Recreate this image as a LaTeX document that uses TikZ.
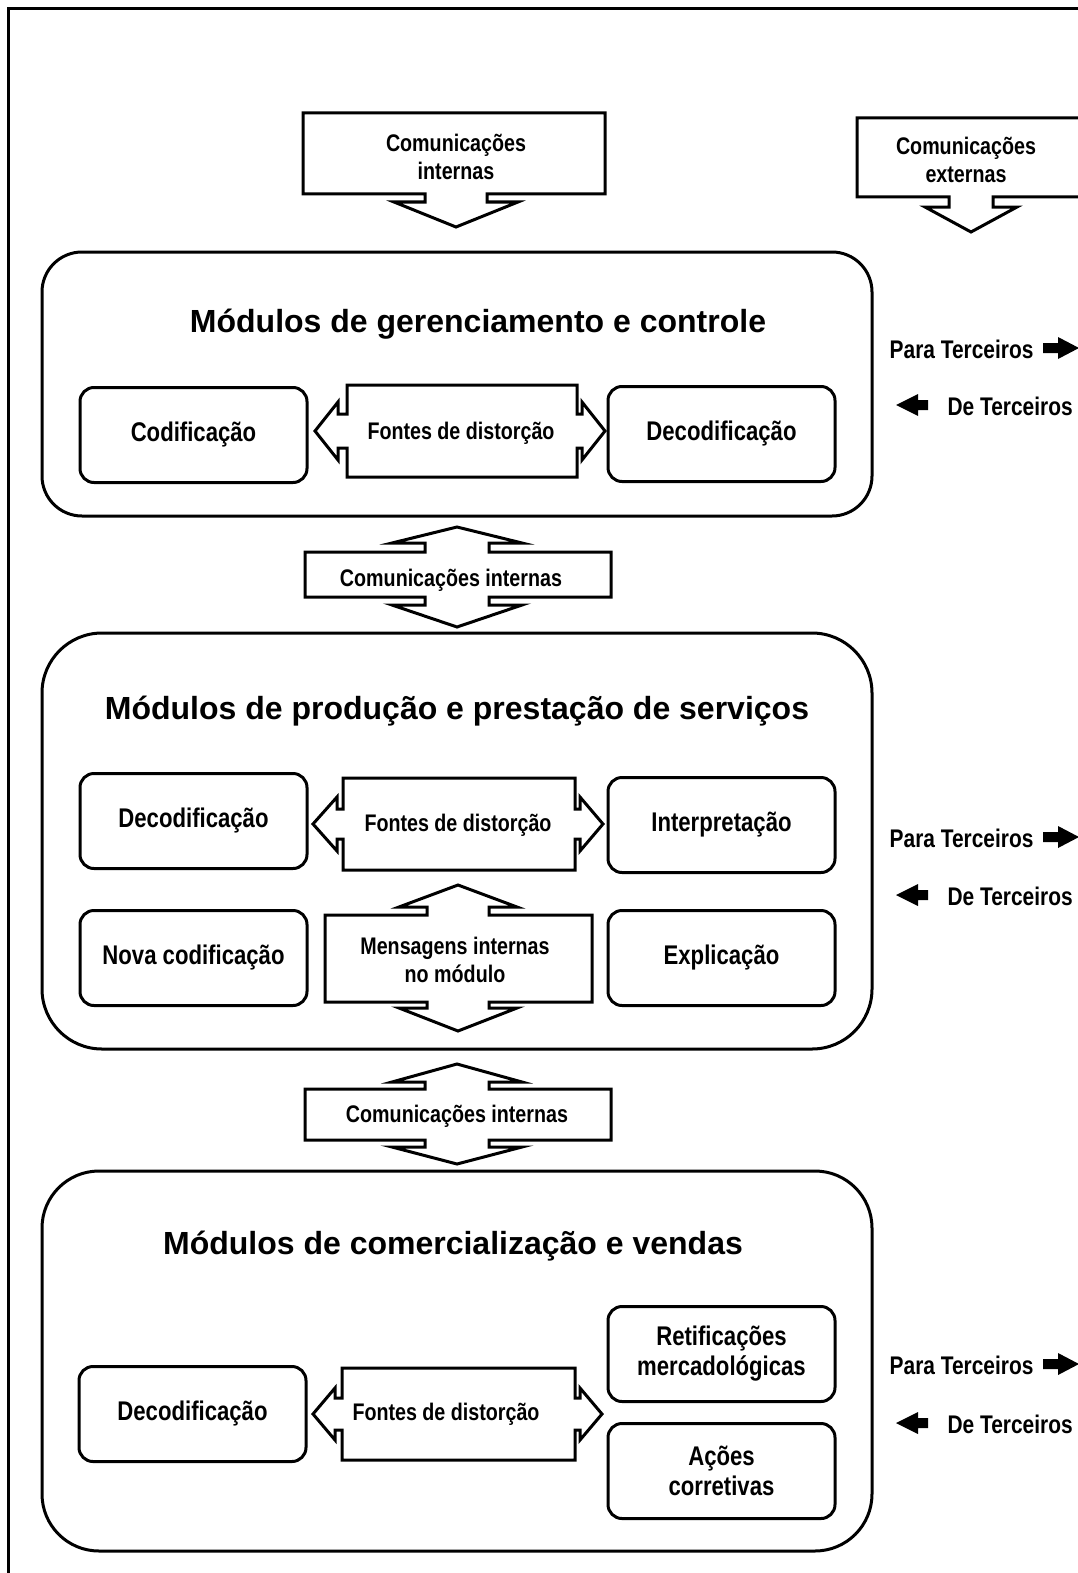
\documentclass[tikz,border=0pt]{standalone}
\usepackage{fontspec}
\setmainfont{Liberation Sans}
\newfontfamily\narrowfont[FakeStretch=0.82]{Liberation Sans}
\usetikzlibrary{positioning}

\tikzset{
  module/.style={draw,line width=3pt,minimum width=830pt,inner sep=0pt},
  titl/.style={font=\bfseries\fontsize{32pt}{38pt}\selectfont},
  box/.style={draw,line width=3pt,rounded corners=14pt,minimum width=227pt,minimum height=95pt,
    align=center,font=\narrowfont\bfseries\fontsize{27pt}{30pt}\selectfont},
  shp/.style={draw,line width=3pt,line join=miter,fill=white},
  sml/.style={align=center,font=\narrowfont\bfseries\fontsize{24pt}{28pt}\selectfont},
  ter/.style={font=\narrowfont\bfseries\fontsize{25.5pt}{28pt}\selectfont},
}

\begin{document}
\begin{tikzpicture}[x=1pt,y=-1pt]
\useasboundingbox (0,0) rectangle (1078,1573);
\clip (0,0) rectangle (1078,1573);
\draw [line width=3pt] (8,9) rectangle (1100,1600);

% callouts on top
\draw [shp] (303,113) -- (605,113) -- (605,194) -- (487,194) -- (487,202) -- (518,202) -- (456,227)
  -- (394,202) -- (425,202) -- (425,194) -- (303,194) -- cycle;
\node [sml] (ci) at (456,157) {Comunicações\\internas};
\draw [shp] (857,118) -- (1088,118) -- (1088,197) -- (993,197) -- (993,207) -- (1017,207) -- (971,232)
  -- (925,207) -- (949,207) -- (949,197) -- (857,197) -- cycle;
\node [sml] (ce) at (966,160) {Comunicações\\externas};

% modules
\node [module,rounded corners=40pt,minimum height=264pt] (m1) at (457,384) {};
\node [module,rounded corners=60pt,minimum height=416pt] (m2) at (457,841) {};
\node [module,rounded corners=57pt,minimum height=380pt] (m3) at (457,1361) {};
\node [titl] (t1) at (478,324) {Módulos de gerenciamento e controle};
\node [titl] (t2) at (457,711) {Módulos de produção e prestação de serviços};
\node [titl] (t3) at (453,1246) {Módulos de comercialização e vendas};

% module 1
\node [box] (cod1) at (193.5,435) {Codificação};
\node [box] (dec1) at (721.5,434) {Decodificação};
\draw [shp] (347,385) -- (577,385) -- (577,414) -- (582,414) -- (582,402) -- (605,431) -- (582,460)
  -- (582,448) -- (577,448) -- (577,477) -- (347,477) -- (347,448) -- (338,448) -- (338,460)
  -- (315,431) -- (338,402) -- (338,414) -- (347,414) -- cycle;
\node [sml] (fd1) at (461,433) {Fontes de distorção};

% between 1 and 2
\draw [shp] (305,552) -- (425,552) -- (425,543) -- (392,543) -- (457,527) -- (522,543) -- (489,543)
  -- (489,552) -- (611,552) -- (611,597) -- (489,597) -- (489,605) -- (522,605) -- (457,627)
  -- (392,605) -- (425,605) -- (425,597) -- (305,597) -- cycle;
\node [sml] (ci12) at (451,580) {Comunicações internas};

% module 2
\node [box] (dec2) at (193.5,821) {Decodificação};
\node [box] (int2) at (721.5,825) {Interpretação};
\node [box] (nova2) at (193.5,958) {Nova codificação};
\node [box] (exp2) at (721.5,958) {Explicação};
\draw [shp] (343,778) -- (575,778) -- (575,809) -- (580,809) -- (580,797) -- (603,824) -- (580,851)
  -- (580,839) -- (575,839) -- (575,870) -- (343,870) -- (343,839) -- (337,839) -- (337,851)
  -- (313,824) -- (337,797) -- (337,809) -- (343,809) -- cycle;
\node [sml] (fd2) at (458,825) {Fontes de distorção};
\draw [shp] (325,915) -- (427,915) -- (427,907) -- (399,907) -- (458,885) -- (517,907) -- (489,907)
  -- (489,915) -- (592,915) -- (592,1002) -- (489,1002) -- (489,1008) -- (517,1008) -- (458,1031)
  -- (399,1008) -- (427,1008) -- (427,1002) -- (325,1002) -- cycle;
\node [sml] (msg2) at (455,960) {Mensagens internas\\no módulo};

% between 2 and 3
\draw [shp] (305,1089) -- (425,1089) -- (425,1082) -- (392,1082) -- (457,1064) -- (522,1082) -- (489,1082)
  -- (489,1089) -- (611,1089) -- (611,1140) -- (489,1140) -- (489,1147) -- (522,1147) -- (457,1164)
  -- (392,1147) -- (425,1147) -- (425,1140) -- (305,1140) -- cycle;
\node [sml] (ci23) at (457,1116) {Comunicações internas};

% module 3
\node [box] (dec3) at (192.5,1414) {Decodificação};
\node [box] (ret3) at (721.5,1354) {Retificações\\mercadológicas};
\node [box] (aco3) at (721.5,1471) {Ações\\corretivas};
\draw [shp] (342,1368) -- (575,1368) -- (575,1398) -- (580,1398) -- (580,1388) -- (602,1414) -- (580,1440)
  -- (580,1430) -- (575,1430) -- (575,1460) -- (342,1460) -- (342,1430) -- (335,1430) -- (335,1440)
  -- (313,1414) -- (335,1388) -- (335,1398) -- (342,1398) -- cycle;
\node [sml] (fd3) at (446,1414) {Fontes de distorção};

% third parties
\foreach \p/\d/\n in {348/405/1, 837/895/2, 1364/1423/3}{
  \node [ter,anchor=east] (pt\n) at (1037,\p+1) {Para Terceiros};
  \node [ter,anchor=west] (dt\n) at (944,\d+1) {De Terceiros};
  \fill (1043,\p-5) -- (1058,\p-5) -- (1058,\p-11) -- (1079,\p) -- (1058,\p+11) -- (1058,\p+5) -- (1043,\p+5) -- cycle;
  \fill (928,\d-5) -- (918,\d-5) -- (918,\d-11) -- (896,\d) -- (918,\d+11) -- (918,\d+5) -- (928,\d+5) -- cycle;
}
\end{tikzpicture}
\end{document}
